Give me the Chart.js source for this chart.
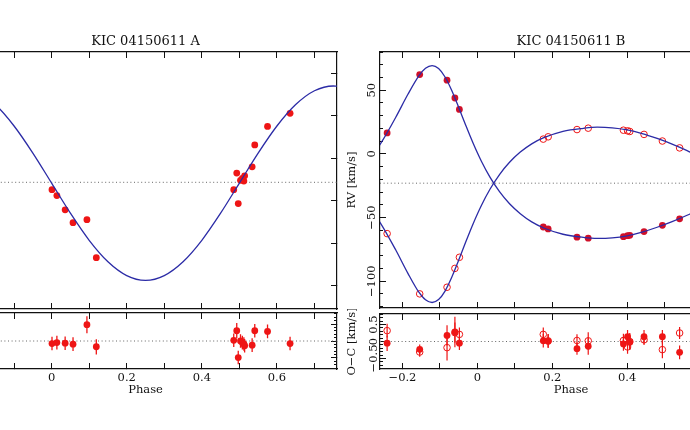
<!DOCTYPE html>
<html><head><meta charset="utf-8">
<script src="https://cdn.jsdelivr.net/npm/chart.js@4.4.1/dist/chart.umd.min.js"></script>
<style>
html,body{margin:0;padding:0;width:690px;height:430px;overflow:hidden;background:#fff;position:relative}
.box{position:absolute}
</style></head><body>
<div class="box" style="left:-100px;top:0;width:441px;height:313px"><canvas id="cLA"></canvas></div>
<div class="box" style="left:-100px;top:309px;width:441px;height:100px"><canvas id="cLR"></canvas></div>
<div class="box" style="left:345px;top:0;width:422px;height:313px"><canvas id="cRA"></canvas></div>
<div class="box" style="left:345px;top:309px;width:422px;height:100px"><canvas id="cRR"></canvas></div>
<script>
// ---------------- data ----------------
const xRange = [-0.26, 0.76];
const gammaA = -22.7;
const gammaB = -23;

// KIC 04150611 A : observations
const phaseA = [0.001, 0.014, 0.036, 0.057, 0.094, 0.119, 0.485, 0.493, 0.497, 0.503, 0.508, 0.514, 0.512, 0.534, 0.541, 0.575, 0.635];
const rvA    = [-29.6, -35.2, -48.6, -60.7, -57.9, -93.7, -29.6, -14.0, -42.7, -20.8, -19.0, -16.6, -21.5, -8.1, 12.5, 29.9, 42.3];
const ocA    = [-3.0, -1.9, -2.6, -3.7, 19.2, -6.8, 0.8, 12.1, -19.5, 0.0, -1.9, -5.6, -3.5, -4.9, 12.1, 11.3, -3.0];
const errA   = [8, 8, 8, 8, 10, 9, 8, 9, 8, 8, 8, 8, 8, 8, 8, 8, 8];
// KIC 04150611 A : model curve
const curvePhaseA = [-0.26,-0.25,-0.20,-0.15,-0.10,-0.05,0.00,0.05,0.10,0.15,0.20,0.25,0.30,0.35,0.40,0.45,0.50,0.55,0.60,0.65,0.70,0.75,0.76];
const curveA      = [67.8,68.0,63.5,50.5,30.3,4.8,-23.5,-51.8,-77.3,-97.5,-110.5,-115.0,-110.5,-97.5,-77.3,-51.8,-23.5,4.8,30.3,50.5,63.5,68.0,67.8];

// KIC 04150611 B : observations (Ba filled, Bb open)
const phaseB = [-0.241, -0.154, -0.081, -0.060, -0.048, 0.176, 0.189, 0.266, 0.296, 0.390, 0.401, 0.407, 0.445, 0.494, 0.540];
const rvBa   = [16.5, 62.3, 57.9, 43.9, 34.9, -57.4, -58.9, -65.4, -66.2, -65.0, -64.2, -63.9, -61.0, -56.1, -51.0];
const rvBb   = [-62.6, -109.9, -104.7, -89.9, -81.2, 11.6, 13.4, 19.1, 20.2, 18.6, 18.1, 17.6, 15.3, 10.1, 4.7];
const ocBa   = [-0.05, -0.23, 0.18, 0.28, -0.05, 0.02, 0.01, -0.21, -0.14, -0.07, 0.14, -0.02, 0.14, 0.14, -0.32];
const ocBb   = [0.32, -0.31, -0.18, 0.26, 0.21, 0.21, 0.02, 0.03, 0.02, 0.03, -0.16, 0.0, 0.05, -0.24, 0.25];
const errBa  = [0.23, 0.14, 0.30, 0.45, 0.20, 0.20, 0.20, 0.18, 0.25, 0.20, 0.20, 0.20, 0.20, 0.20, 0.20];
const errBb  = [0.20, 0.14, 0.38, 0.30, 0.20, 0.20, 0.20, 0.18, 0.25, 0.20, 0.20, 0.25, 0.15, 0.25, 0.18];
// KIC 04150611 B : model curves
const curvePhaseB = [-0.2931,-0.2535,-0.2179,-0.1858,-0.1567,-0.1385,-0.1209,-0.1036,-0.0863,-0.0687,-0.0505,-0.0314,-0.0110,0.0107,0.0340,0.0591,0.0859,0.1146,0.1451,0.1774,0.2286,0.2828,0.32,0.36,0.40,0.44,0.48,0.52,0.56,0.60];
const curveBa = [-6.8,10.35,28.75,46.6,61.1,67.2,69.3,67.0,60.4,50.0,37.0,22.7,8.1,-5.8,-18.5,-29.7,-39.2,-47.0,-53.4,-58.2,-63.1,-65.5,-66.3,-65.9,-64.3,-61.4,-57.6,-53.2,-48.2,-42.5];
const curveBb = [-39.4,-56.85,-75.5,-93.6,-108.4,-114.6,-116.7,-114.4,-107.7,-97.1,-83.9,-69.4,-54.6,-40.5,-27.6,-16.2,-6.6,1.4,7.9,12.7,17.7,20.1,21.0,20.5,18.9,16.0,12.1,7.7,2.6,-3.2];

// axis ranges and tick values
const yRangeA  = [-142, 100];
const yRangeOA = [-33, 33];
const yRangeB  = [-121, 80];
const yRangeOB = [-0.81, 0.81];
const xTicks   = [-0.2, -0.1, 0, 0.1, 0.2, 0.3, 0.4, 0.5, 0.6, 0.7];
const xLabelTicks = [-0.2, 0, 0.2, 0.4, 0.6];
const yTicksA  = [-120, -80, -40, 0, 40, 80];
const yTicksOA = [-20, 0, 20];
const yTicksB  = [-100, -50, 0, 50];
const yTicksOB = [-0.5, 0, 0.5];
const minorOA = {from: -32, to: 32, step: 4};
const minorB  = {from: -120, to: 80, step: 10};
const minorOB = {from: -0.8, to: 0.8, step: 0.1};

// ---------------- styling ----------------
const FONT = "'DejaVu Serif', 'Liberation Serif', serif";
const INK = '#111';
const BLUE = '#2b2ba6';
const RED = '#ee1515';
const RED_DARK = '#d01028';
Chart.defaults.font.family = FONT;
Chart.defaults.color = INK;

const pts = (xs, ys) => xs.map((x, i) => ({x, y: ys[i]}));
const errSeg = (xs, ys, es) => xs.flatMap((x, i) => [{x, y: ys[i] - es[i]}, {x, y: ys[i] + es[i]}, {x, y: null}]);
const hline = (v) => [{x: xRange[0], y: v}, {x: xRange[1], y: v}];
const fmt = v => String(Math.round(v * 100) / 100).replace('-', '\u2212');
const minorList = m => { const out = []; const n = Math.round((m.to - m.from) / m.step); for (let i = 0; i <= n; i++) out.push(Math.round((m.from + i * m.step) * 1000) / 1000); return out; };
const setTicks = list => (sc => { sc.ticks = list.map(v => ({value: v})); });
const isLabelled = v => xLabelTicks.some(t => Math.abs(t - v) < 1e-6);

function xScale(position, labels) {
  const s = {
    type: 'linear', position, min: xRange[0], max: xRange[1],
    border: {display: true, color: INK, width: 1.2},
    grid: {drawOnChartArea: false, drawTicks: true, tickLength: -6, color: INK, lineWidth: 1},
    ticks: {autoSkip: false, minRotation: 0, maxRotation: 0,
      display: labels, color: INK, font: {family: FONT, size: 11.5}, padding: 8.4,
      callback: v => isLabelled(v) ? fmt(v) : ''},
    afterBuildTicks: setTicks(xTicks),
    afterFit: sc => { sc.height = labels ? 40 : 0; }
  };
  if (labels) s.title = {display: true, text: 'Phase', color: INK, font: {family: FONT, size: 11.5}, padding: {top: 0, bottom: 12}};
  return s;
}
function tickAxis(position, range, list, len, weight, border) {
  return {
    type: 'linear', position, min: range[0], max: range[1], weight,
    border: {display: border, color: INK, width: 1.2},
    grid: {drawOnChartArea: false, drawTicks: true, tickLength: -len, color: INK, lineWidth: 1},
    ticks: {autoSkip: false, display: false},
    afterBuildTicks: setTicks(list),
    afterFit: sc => { sc.width = 0; }
  };
}
function labelAxis(range, list, title, pad) {
  return {
    type: 'linear', position: 'left', min: range[0], max: range[1], weight: 0,
    border: {display: true, color: INK, width: 1.2},
    grid: {drawOnChartArea: false, drawTicks: true, tickLength: -6, color: INK, lineWidth: 1},
    ticks: {autoSkip: false, minRotation: 90, maxRotation: 90,
      crossAlign: 'center', padding: pad, color: INK, font: {family: FONT, size: 11.5}, callback: v => fmt(v)},
    afterBuildTicks: setTicks(list),
    title: {display: true, text: title, color: INK, font: {family: FONT, size: 11.5}, padding: {top: 0, bottom: 0}},
    afterFit: sc => { sc.width = 35; }
  };
}
const base = (pad, title) => ({
  responsive: true, maintainAspectRatio: false, animation: false, events: [],
  layout: {padding: pad},
  plugins: {
    legend: {display: false}, tooltip: {enabled: false},
    title: title ? {display: true, text: title, fullSize: false, color: INK,
      font: {family: FONT, size: 13, weight: 'normal'}, padding: {top: 33.5, bottom: 2.9}} : {display: false}
  }
});
const lineDs = (data, color, width, extra) => Object.assign({type: 'line', data, borderColor: color, borderWidth: width,
  pointRadius: 0, fill: false, xAxisID: 'x', yAxisID: 'y'}, extra || {});
const dotDs = (data, fill, stroke, extra) => Object.assign({type: 'scatter', data, pointRadius: 3.4,
  backgroundColor: fill, borderColor: stroke, borderWidth: 1, xAxisID: 'x', yAxisID: 'y'}, extra || {});
const gammaStyle = {borderDash: [1, 2.6], borderColor: '#666'};
const smooth = {cubicInterpolationMode: 'monotone'};

// ---------------- left: A ----------------
new Chart(document.getElementById('cLA'), {
  type: 'scatter',
  data: {datasets: [
    lineDs(pts(curvePhaseA, curveA), BLUE, 1.3, smooth),
    dotDs(pts(phaseA, rvA), RED, RED, {borderWidth: 0}),
    lineDs(hline(gammaA), '#666', 1, gammaStyle)
  ]},
  options: Object.assign(base({left: 54, right: 2, top: 0, bottom: 2}, 'KIC 04150611 A'), {
    scales: {
      x: xScale('bottom', false), xt: xScale('top', false),
      y: {type: 'linear', display: false, min: yRangeA[0], max: yRangeA[1]},
      yr: tickAxis('right', yRangeA, yTicksA, 6, 0, true)
    }
  })
});
new Chart(document.getElementById('cLR'), {
  type: 'scatter',
  data: {datasets: [
    dotDs(pts(phaseA, ocA), RED, RED, {borderWidth: 0}),
    lineDs(errSeg(phaseA, ocA, errA), RED, 1.3),
    lineDs(hline(0), '#666', 1, gammaStyle)
  ]},
  options: Object.assign(base({left: 54, right: 2, top: 2, bottom: 0}, null), {
    scales: {
      x: xScale('bottom', true), xt: xScale('top', false),
      y: {type: 'linear', display: false, min: yRangeOA[0], max: yRangeOA[1]},
      yr: tickAxis('right', yRangeOA, yTicksOA, 6, 0, true),
      yrm: tickAxis('right', yRangeOA, minorList(minorOA), 3, -1, false)
    }
  })
});

// ---------------- right: B ----------------
new Chart(document.getElementById('cRA'), {
  type: 'scatter',
  data: {datasets: [
    lineDs(pts(curvePhaseB, curveBa), BLUE, 1.3, smooth),
    lineDs(pts(curvePhaseB, curveBb), BLUE, 1.3, smooth),
    dotDs(pts(phaseB, rvBa), RED_DARK, RED_DARK, {borderWidth: 0}),
    dotDs(pts(phaseB, rvBb), 'rgba(0,0,0,0)', RED, {borderWidth: 1, pointRadius: 3.3}),
    lineDs(hline(gammaB), '#666', 1, gammaStyle)
  ]},
  options: Object.assign(base({left: 0, right: 2, top: 0, bottom: 2}, 'KIC 04150611 B'), {
    scales: {
      x: xScale('bottom', false), xt: xScale('top', false),
      y: labelAxis(yRangeB, yTicksB, 'RV [km/s]', -2),
      ym: tickAxis('left', yRangeB, minorList(minorB), 3, -1, false)
    }
  })
});
new Chart(document.getElementById('cRR'), {
  type: 'scatter',
  data: {datasets: [
    dotDs(pts(phaseB, ocBa), RED, RED, {borderWidth: 0}),
    dotDs(pts(phaseB, ocBb), 'rgba(255,255,255,0)', RED, {borderWidth: 1, pointRadius: 3.3}),
    lineDs(errSeg(phaseB, ocBa, errBa), RED, 1.2),
    lineDs(errSeg(phaseB, ocBb, errBb), RED, 1.2),
    lineDs(hline(0), '#666', 1, gammaStyle)
  ]},
  options: Object.assign(base({left: 0, right: 2, top: 2, bottom: 0}, null), {
    scales: {
      x: xScale('bottom', true), xt: xScale('top', false),
      y: labelAxis(yRangeOB, yTicksOB, 'O\u2212C [km/s]', -2),
      ym: tickAxis('left', yRangeOB, minorList(minorOB), 3, -1, false)
    }
  })
});
</script>
</body></html>
